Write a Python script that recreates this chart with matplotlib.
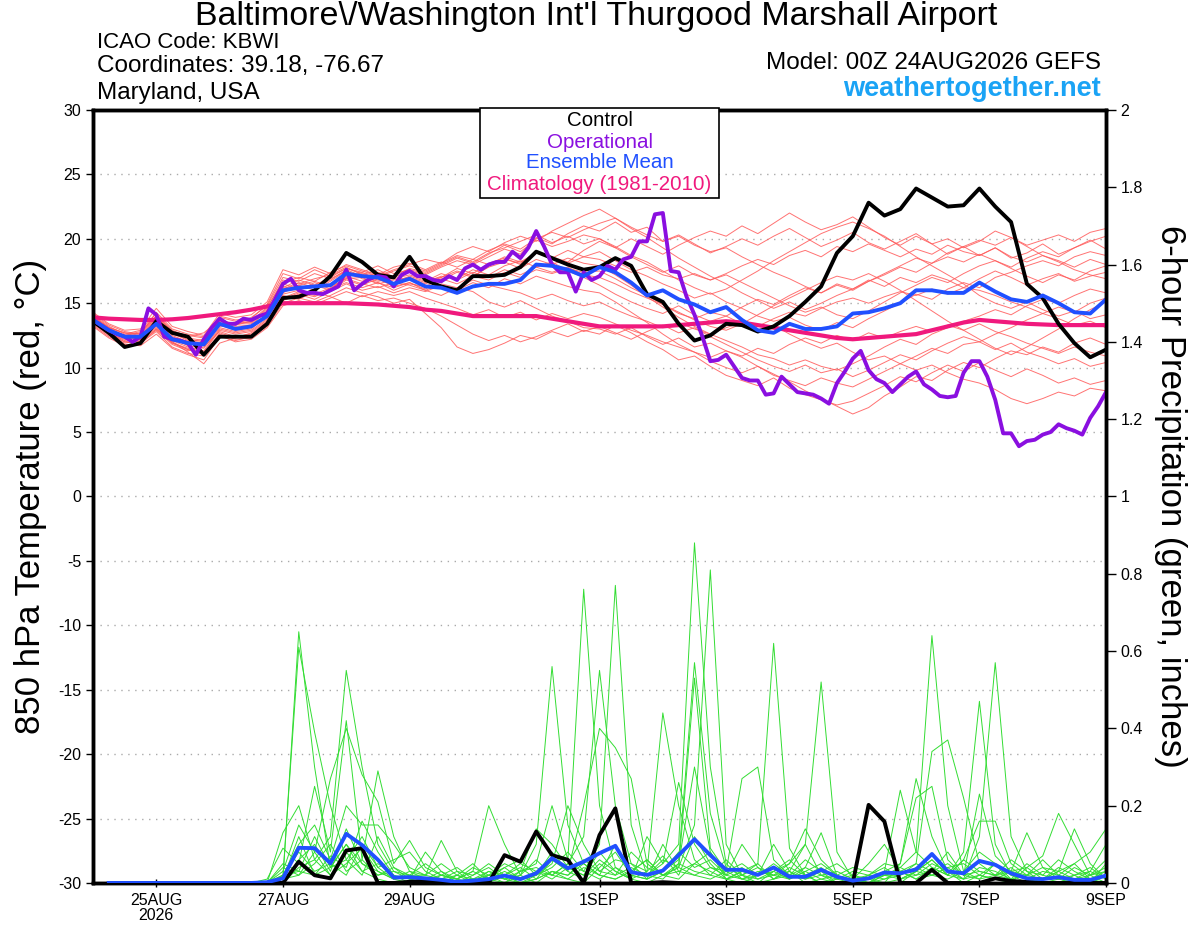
import numpy as np
import matplotlib
matplotlib.use("Agg")
from matplotlib import pyplot as plt
from matplotlib.patches import Rectangle

plt.rcParams['font.family'] = ['Liberation Sans', 'DejaVu Sans']

# 6-hourly steps from 00Z 24AUG2026 (65 points), operational is 3-hourly (129 points)
tick_days = [1, 3, 5, 8, 10, 12, 14, 16]
tick_labels = ['25AUG\n2026', '27AUG', '29AUG', '1SEP', '3SEP', '5SEP', '7SEP', '9SEP']

control_t = [13.6, 12.7, 11.6, 11.9, 13.6, 12.7, 12.4, 11.0, 12.4, 12.4,
             12.4, 13.4, 15.4, 15.5, 16.0, 17.1, 18.9, 18.2, 17.2, 17.0,
             18.6, 16.8, 16.3, 16.0, 17.1, 17.1, 17.2, 17.8, 19.0, 18.5,
             18.0, 17.6, 17.8, 18.5, 17.9, 15.7, 15.1, 13.4, 12.1, 12.5,
             13.4, 13.3, 12.8, 13.2, 14.0, 15.1, 16.3, 18.9, 20.2, 22.8,
             21.8, 22.3, 23.9, 23.2, 22.5, 22.6, 23.9, 22.5, 21.3, 16.5,
             15.4, 13.4, 11.9, 10.8, 11.4]

mean_t = [13.7, 12.9, 12.4, 12.4, 13.4, 12.2, 11.9, 11.8, 13.4, 13.0,
          13.2, 14.0, 16.0, 16.2, 16.3, 16.4, 17.3, 17.1, 17.0, 16.5,
          16.9, 16.3, 16.2, 15.8, 16.3, 16.5, 16.5, 16.8, 18.0, 17.9,
          17.6, 17.1, 17.8, 17.4, 16.6, 15.6, 16.0, 15.3, 14.9, 14.3,
          14.7, 13.7, 12.9, 12.7, 13.4, 13.0, 13.0, 13.2, 14.2, 14.3,
          14.6, 15.0, 16.0, 16.0, 15.8, 15.8, 16.6, 15.9, 15.3, 15.1,
          15.6, 15.0, 14.3, 14.2, 15.3]

clim_t = [13.9, 13.8, 13.75, 13.7, 13.7, 13.75, 13.85, 14.0, 14.15, 14.3,
          14.5, 14.75, 15.0, 15.0, 15.0, 15.0, 15.0, 14.95, 14.9, 14.8,
          14.7, 14.5, 14.4, 14.2, 14.0, 14.0, 14.0, 14.0, 14.0, 13.8,
          13.6, 13.4, 13.2, 13.2, 13.2, 13.2, 13.2, 13.3, 13.4, 13.5,
          13.6, 13.5, 13.3, 13.1, 12.9, 12.7, 12.5, 12.3, 12.2, 12.3,
          12.4, 12.5, 12.6, 12.9, 13.2, 13.5, 13.7, 13.6, 13.5, 13.4,
          13.35, 13.3, 13.3, 13.3, 13.3]

oper_t = [13.7, 13.3, 12.9, 12.6, 12.4, 12.0, 12.4, 14.6, 14.1, 12.4,
          12.2, 12.1, 11.9, 11.0, 12.2, 13.1, 13.8, 13.4, 13.4, 13.8,
          13.7, 14.0, 14.2, 15.3, 16.5, 16.9, 16.0, 15.8, 15.8, 15.7,
          16.0, 16.3, 17.6, 16.0, 16.5, 16.9, 17.1, 17.0, 16.3, 17.2,
          17.5, 17.1, 17.1, 16.8, 16.7, 17.1, 16.8, 17.7, 18.0, 17.6,
          18.0, 18.2, 18.2, 19.0, 18.5, 19.3, 20.6, 19.4, 18.0, 17.4,
          17.4, 15.9, 17.4, 16.8, 17.1, 17.9, 17.6, 18.4, 18.6, 19.8,
          19.8, 21.9, 22.0, 17.5, 17.4, 15.5, 14.1, 12.4, 10.5, 10.6,
          11.0, 10.1, 9.2, 9.0, 9.0, 7.9, 8.0, 9.3, 8.7, 8.1,
          8.0, 7.9, 7.6, 7.2, 8.8, 9.7, 10.7, 11.3, 9.8, 9.1,
          8.8, 8.1, 8.7, 9.3, 9.7, 8.7, 8.3, 7.8, 7.7, 7.8,
          9.6, 10.5, 10.5, 9.3, 7.5, 4.9, 4.9, 3.9, 4.3, 4.4,
          4.8, 5.0, 5.6, 5.3, 5.1, 4.8, 6.1, 7.0, 8.1]

members_t = [
    [14.1, 13.2, 12.6, 12.9, 14.2, 12.8, 12.5, 12.3, 13.9, 13.6,
     13.5, 14.6, 16.8, 16.5, 16.9, 17.2, 17.8, 17.2, 17.6, 17.0,
     17.5, 17.2, 17.8, 18.3, 18.0, 18.6, 19.2, 18.8, 20.1, 19.6,
     20.4, 21.0, 20.6, 21.3, 20.5, 20.9, 19.8, 20.3, 19.6, 18.9,
     19.4, 20.0, 19.5, 20.2, 20.8, 20.1, 19.4, 19.9, 20.5, 19.7,
     19.2, 19.8, 20.4, 19.6, 20.0, 19.3, 19.8, 20.6, 20.1, 19.5,
     19.9, 20.3, 19.8, 20.5, 20.8],
    [13.6, 12.7, 12.0, 12.2, 13.1, 12.0, 11.4, 11.2, 12.9, 12.6,
     12.8, 13.7, 15.8, 16.4, 16.0, 16.7, 17.5, 16.9, 16.6, 16.2,
     16.6, 16.1, 16.8, 17.4, 17.0, 17.9, 18.4, 18.1, 19.0, 18.6,
     18.2, 19.1, 19.8, 19.3, 20.0, 19.4, 18.8, 19.5, 20.1, 20.6,
     20.2, 21.0, 20.4, 21.2, 22.0, 21.3, 20.7, 21.1, 21.7, 20.9,
     20.1, 19.5, 20.2, 19.6, 18.8, 19.4, 18.7, 19.3, 18.5, 18.9,
     19.6, 18.8, 19.3, 19.9, 19.2],
    [13.3, 12.4, 11.8, 11.7, 12.6, 11.5, 11.0, 10.6, 12.4, 12.1,
     12.4, 13.2, 15.0, 15.4, 15.1, 15.6, 16.2, 15.8, 15.5, 15.0,
     15.3, 14.2, 13.1, 11.6, 11.1, 11.4, 11.9, 12.5, 12.2, 12.8,
     12.4, 12.9, 12.6, 13.3, 12.7, 12.0, 11.4, 10.6, 10.9, 10.1,
     9.4, 9.0, 8.6, 9.2, 8.4, 7.9, 7.5, 7.1, 7.4, 8.0,
     8.6, 9.3, 8.9, 9.6, 10.2, 9.7, 10.4, 9.8, 9.3, 9.9,
     9.4, 8.8, 9.2, 8.7, 9.0],
    [14.0, 13.1, 12.7, 12.5, 13.7, 12.6, 12.2, 12.0, 13.6, 13.3,
     13.6, 14.3, 16.3, 16.0, 16.6, 16.1, 17.0, 17.4, 16.8, 16.6,
     17.1, 16.7, 17.3, 16.9, 17.6, 17.2, 17.9, 18.3, 17.8, 18.2,
     17.5, 17.0, 16.4, 15.7, 15.1, 14.6, 14.2, 14.8, 14.1, 13.6,
     14.0, 14.7, 15.3, 14.9, 15.6, 16.2, 15.8, 16.5, 16.1, 16.8,
     16.3, 17.0, 16.6, 17.2, 16.8, 16.2, 16.9, 17.5, 17.0, 16.4,
     16.9, 17.3, 16.7, 17.1, 17.4],
    [13.5, 12.6, 12.2, 12.0, 12.9, 11.8, 11.3, 11.6, 12.8, 12.4,
     12.6, 13.5, 15.4, 15.9, 15.6, 16.0, 16.8, 16.4, 16.9, 16.3,
     16.6, 16.0, 15.6, 16.2, 15.9, 15.1, 14.7, 15.2, 14.6, 14.0,
     13.6, 13.1, 13.0, 12.6, 13.1, 12.4, 11.8, 12.3, 11.6, 11.9,
     11.3, 10.8, 10.1, 9.5, 8.9, 8.2, 7.6, 7.0, 6.4, 6.9,
     7.8, 8.5, 9.3, 9.0, 9.8, 10.4, 10.0, 10.7, 11.3, 11.0,
     11.6, 11.2, 11.9, 12.3, 11.8],
    [13.9, 13.0, 12.5, 12.8, 14.0, 12.9, 12.4, 12.7, 13.7, 13.3,
     13.9, 14.8, 17.0, 16.7, 17.3, 16.9, 17.5, 17.0, 17.4, 17.1,
     17.7, 17.4, 18.0, 18.6, 18.2, 18.9, 19.3, 19.8, 20.3, 19.7,
     20.2, 19.6, 20.0, 19.3, 18.6, 18.0, 17.4, 17.9, 17.2, 16.8,
     17.3, 17.9, 18.4, 18.0, 18.7, 19.1, 18.6, 19.4, 19.0, 19.6,
     19.1, 18.6, 19.2, 18.8, 19.5, 19.0, 18.7, 19.3, 18.6, 18.2,
     18.7, 18.3, 17.8, 18.4, 18.0],
    [13.7, 12.8, 12.3, 12.2, 13.5, 12.3, 11.7, 11.5, 13.1, 12.8,
     13.0, 14.1, 16.1, 16.6, 16.2, 16.8, 17.6, 17.1, 16.7, 16.9,
     17.2, 16.8, 17.0, 17.5, 17.1, 17.8, 18.2, 17.7, 18.4, 18.0,
     18.5, 18.1, 17.9, 17.2, 16.4, 15.5, 14.7, 13.9, 13.2, 12.6,
     12.1, 11.6, 11.0, 10.7, 10.2, 10.6, 10.1, 9.8, 10.3, 10.9,
     11.6, 12.2, 11.8, 12.6, 13.1, 13.6, 14.0, 14.5, 14.1, 14.8,
     15.3, 15.0, 15.6, 16.1, 15.8],
    [14.2, 13.3, 12.8, 12.6, 13.9, 12.7, 12.1, 11.9, 13.5, 13.2,
     13.3, 14.4, 16.5, 16.1, 16.4, 16.0, 17.1, 16.7, 17.2, 16.4,
     16.9, 16.5, 17.0, 17.7, 17.3, 18.1, 18.5, 18.0, 18.9, 18.5,
     19.1, 18.6, 19.0, 18.3, 17.6, 17.1, 16.5, 16.0, 15.4, 15.8,
     15.1, 14.6, 14.0, 13.6, 13.9, 13.3, 12.9, 13.5, 13.1, 13.8,
     14.4, 15.0, 15.7, 15.3, 16.1, 16.6, 16.2, 17.0, 17.4, 17.9,
     18.3, 17.9, 18.6, 19.0, 18.7],
    [13.4, 12.5, 11.9, 12.1, 13.0, 11.9, 11.5, 11.0, 12.7, 12.3,
     12.5, 13.4, 15.2, 15.7, 15.3, 15.9, 16.5, 16.0, 16.3, 15.8,
     16.2, 15.9, 16.4, 16.0, 16.6, 16.2, 16.9, 16.5, 17.1, 16.7,
     16.3, 16.0, 15.8, 15.1, 14.3, 13.5, 12.6, 11.8, 11.2, 10.5,
     10.0, 9.6, 10.1, 9.4, 9.0, 8.6, 9.2, 8.8, 8.5, 9.1,
     9.7, 10.3, 10.9, 11.5, 11.1, 11.8, 12.0, 11.4, 11.9, 11.2,
     10.8, 10.3, 10.7, 10.1, 10.4],
    [13.8, 12.9, 12.3, 12.5, 13.8, 12.5, 12.0, 11.8, 13.3, 12.9,
     13.1, 14.2, 16.2, 16.8, 16.4, 17.0, 17.7, 17.3, 17.0, 17.5,
     17.9, 17.5, 18.1, 18.7, 18.4, 19.1, 19.6, 19.2, 20.0, 20.5,
     20.1, 20.7, 21.2, 21.6, 20.9, 20.3, 19.8, 20.2, 19.5, 19.0,
     19.3, 18.6, 18.0, 17.4, 16.9, 16.3, 15.8, 16.4, 16.0, 16.7,
     17.3, 17.9, 18.5, 18.1, 18.9, 19.4, 19.9, 19.5, 20.1, 19.4,
     18.7, 18.2, 17.6, 17.2, 16.9],
    [14.0, 13.0, 12.4, 12.3, 13.6, 12.4, 12.0, 12.2, 13.2, 13.4,
     13.4, 14.5, 16.0, 16.4, 16.7, 16.3, 16.9, 17.0, 16.5, 16.8,
     17.0, 16.6, 17.1, 16.8, 17.4, 17.0, 17.6, 17.2, 17.8, 17.4,
     17.8, 17.2, 17.0, 16.5, 15.9, 15.4, 14.9, 14.2, 13.8, 14.3,
     14.0, 13.4, 12.9, 13.3, 12.6, 12.0, 11.5, 11.9, 11.2, 10.6,
     10.9, 10.3, 9.8, 10.2, 9.6, 9.1, 8.8, 8.3, 7.6, 7.2,
     7.6, 8.1, 7.8, 8.4, 8.2],
    [13.6, 12.7, 12.1, 12.4, 13.3, 12.1, 11.6, 11.3, 13.0, 12.7,
     12.9, 13.8, 15.7, 16.0, 15.7, 16.2, 16.9, 16.5, 16.2, 16.6,
     16.4, 16.0, 16.5, 16.2, 16.8, 16.4, 16.1, 15.8, 15.3, 15.7,
     15.2, 14.8, 15.1, 14.5, 14.0, 13.6, 13.1, 13.5, 13.0, 12.6,
     13.1, 13.5, 13.2, 13.8, 14.3, 14.0, 14.6, 15.1, 15.4, 15.0,
     15.5, 15.9, 15.6, 16.1, 15.7, 16.2, 16.0, 15.6, 15.1, 14.7,
     14.2, 13.8, 13.3, 13.6, 13.1],
    [13.9, 13.1, 12.7, 12.6, 14.3, 13.0, 12.6, 12.4, 14.0, 13.7,
     13.8, 14.9, 17.3, 16.9, 17.6, 17.1, 17.7, 17.4, 17.9, 17.3,
     17.6, 17.3, 17.9, 18.5, 18.1, 18.8, 19.5, 19.0, 19.9, 19.4,
     19.8, 20.3, 20.0, 19.4, 18.7, 18.2, 17.5, 16.8, 16.2, 15.7,
     16.1, 16.8, 17.5, 18.3, 19.0, 19.7, 20.4, 20.9, 21.3, 20.8,
     20.2, 19.4, 18.6, 17.9, 17.2, 16.5, 15.6, 15.0, 14.6, 15.1,
     14.5, 14.0, 14.4, 13.8, 14.1],
    [13.2, 12.3, 11.7, 11.9, 12.8, 11.6, 11.1, 10.9, 12.5, 12.0,
     12.2, 13.1, 14.8, 15.2, 14.9, 15.4, 15.9, 15.5, 15.9, 15.6,
     15.9, 15.4, 15.0, 14.6, 14.1, 14.5, 13.9, 14.3, 13.7, 14.2,
     13.8, 14.2, 13.9, 13.4, 12.9, 12.5, 12.0, 11.6, 11.2, 10.8,
     11.3, 10.9, 11.5, 11.1, 11.8, 12.3, 11.9, 12.5, 12.1, 12.7,
     12.3, 12.8, 13.2, 12.8, 13.3, 12.9, 13.4, 12.8, 12.4, 11.9,
     11.5, 11.1, 11.6, 11.2, 10.9],
    [14.3, 13.4, 12.9, 13.0, 14.6, 13.2, 12.8, 12.5, 14.2, 13.9,
     14.1, 15.1, 17.6, 17.2, 17.8, 17.3, 18.0, 17.6, 17.2, 17.8,
     18.1, 17.6, 18.2, 17.8, 18.4, 18.0, 18.6, 18.2, 18.9, 18.5,
     18.1, 18.6, 18.4, 17.9, 17.4, 17.8, 17.2, 16.9, 17.3, 16.8,
     17.2, 16.6, 16.0, 15.4, 14.8, 14.3, 14.7, 14.1, 13.8, 14.4,
     15.1, 15.8, 16.4, 17.0, 16.6, 17.3, 17.9, 18.3, 17.8, 18.5,
     19.0, 18.6, 19.3, 19.8, 20.2],
    [13.5, 12.6, 12.0, 11.8, 13.0, 11.9, 11.4, 11.0, 12.6, 12.2,
     12.3, 13.3, 15.3, 15.8, 15.5, 16.1, 16.6, 16.2, 16.6, 16.0,
     16.5, 16.3, 16.9, 16.5, 17.1, 16.8, 17.4, 17.0, 17.6, 17.3,
     17.7, 17.4, 17.5, 16.9, 16.2, 15.6, 14.9, 14.3, 13.7, 13.2,
     12.9, 13.4, 14.1, 14.8, 15.4, 16.0, 16.6, 17.1, 16.8, 17.3,
     16.7, 16.0, 15.2, 14.4, 13.6, 12.9, 12.2, 11.5, 11.0, 11.6,
     12.3, 13.0, 13.8, 14.5, 15.1],
    [13.7, 12.9, 12.5, 12.2, 13.2, 12.0, 11.2, 10.3, 11.9, 12.3,
     12.7, 13.6, 15.6, 15.3, 15.9, 15.5, 15.0, 15.6, 15.2, 15.4,
     15.0, 14.6, 14.0, 13.3, 12.6, 12.1, 12.5, 12.0, 12.4, 12.9,
     13.4, 12.8, 13.2, 12.7, 12.2, 12.8, 13.3, 12.7, 13.1, 12.4,
     11.8, 11.2, 10.6, 10.1, 9.7, 10.2, 9.6, 9.9, 9.3, 9.8,
     10.4, 11.0, 10.6, 11.3, 11.9, 12.4, 12.0, 12.6, 13.1, 13.7,
     14.2, 14.7, 14.3, 15.0, 15.4],
    [14.0, 13.1, 12.5, 12.7, 14.0, 12.7, 12.3, 12.1, 13.7, 13.4,
     13.6, 14.7, 16.6, 17.0, 16.7, 17.4, 17.9, 17.5, 17.1, 17.6,
     18.0, 18.4, 18.1, 18.9, 19.4, 19.0, 19.7, 20.2, 19.8, 20.6,
     21.2, 21.8, 22.3, 21.6, 20.8, 20.1, 19.3, 18.5, 17.8, 17.1,
     16.5, 15.8, 15.2, 14.6, 15.1, 14.5, 15.0, 15.6, 16.1, 16.7,
     17.2, 17.8, 17.4, 18.1, 18.6, 18.2, 18.8, 18.3, 17.7, 17.1,
     16.6, 17.2, 16.8, 17.5, 17.9],
]

# 6-hour precipitation, 06Z 24AUG .. 00Z 9SEP (64 points)
control_p = [0, 0, 0, 0, 0, 0, 0, 0, 0, 0,
             0, 0, 0.055, 0.02, 0.012, 0.084, 0.09, 0, 0, 0.003,
             0.006, 0.003, 0, 0, 0, 0.072, 0.055, 0.133, 0.072, 0.06,
             0, 0.124, 0.193, 0, 0, 0.002, 0, 0, 0, 0,
             0, 0, 0, 0, 0, 0, 0, 0, 0.202, 0.159,
             0, 0, 0.034, 0, 0, 0, 0.012, 0.005, 0.003, 0,
             0, 0, 0, 0]

mean_p = [0, 0, 0, 0, 0, 0, 0, 0, 0, 0,
          0.002, 0.012, 0.091, 0.09, 0.051, 0.127, 0.098, 0.06, 0.014, 0.015,
          0.012, 0.008, 0.003, 0.006, 0.01, 0.019, 0.01, 0.025, 0.064, 0.038,
          0.055, 0.077, 0.096, 0.028, 0.021, 0.032, 0.072, 0.113, 0.072, 0.034,
          0.034, 0.021, 0.04, 0.016, 0.016, 0.034, 0.016, 0.006, 0.012, 0.027,
          0.025, 0.035, 0.075, 0.03, 0.025, 0.057, 0.047, 0.025, 0.012, 0.01,
          0.015, 0.008, 0.008, 0.019]

members_p = [
    [0, 0, 0, 0, 0, 0, 0, 0, 0, 0,
     0, 0.01, 0.65, 0.30, 0.04, 0.10, 0.03, 0.01, 0, 0,
     0, 0, 0, 0.01, 0.02, 0, 0.03, 0.05, 0.20, 0.06,
     0.76, 0.20, 0.04, 0.01, 0, 0.02, 0.05, 0.30, 0.08, 0.01,
     0, 0.02, 0.10, 0.03, 0, 0.01, 0, 0, 0, 0.02,
     0.04, 0.08, 0.64, 0.20, 0.03, 0.01, 0.05, 0, 0, 0,
     0, 0.01, 0, 0.02],
    [0, 0, 0, 0, 0, 0, 0, 0, 0, 0,
     0, 0.02, 0.61, 0.39, 0.20, 0.06, 0.12, 0.04, 0.01, 0,
     0, 0.01, 0, 0, 0.03, 0.01, 0, 0.02, 0.04, 0.08,
     0.03, 0.10, 0.77, 0.15, 0.02, 0.05, 0.10, 0.88, 0.30, 0.05,
     0.01, 0, 0.03, 0.01, 0.04, 0.13, 0.02, 0, 0, 0,
     0, 0.03, 0.06, 0.02, 0.08, 0.47, 0.10, 0.02, 0, 0,
     0, 0, 0.01, 0],
    [0, 0, 0, 0, 0, 0, 0, 0, 0, 0,
     0, 0.13, 0.20, 0.06, 0.12, 0.55, 0.30, 0.10, 0.03, 0.01,
     0, 0, 0.02, 0.05, 0.01, 0, 0.02, 0.10, 0.56, 0.15,
     0.05, 0.02, 0.01, 0.03, 0.06, 0.02, 0.04, 0.15, 0.81, 0.10,
     0.02, 0, 0.01, 0.04, 0.02, 0, 0, 0.01, 0, 0.03,
     0.05, 0.27, 0.12, 0.03, 0, 0.02, 0.01, 0, 0.04, 0.07,
     0.18, 0.10, 0.02, 0],
    [0, 0, 0, 0, 0, 0, 0, 0, 0, 0,
     0.01, 0.09, 0.05, 0.25, 0.08, 0.42, 0.06, 0.29, 0.12, 0.03,
     0.01, 0, 0, 0, 0.02, 0.04, 0.01, 0.03, 0.02, 0.05,
     0.12, 0.55, 0.20, 0.05, 0.03, 0.44, 0.20, 0.06, 0.02, 0.01,
     0.03, 0.05, 0.62, 0.09, 0.02, 0, 0.01, 0, 0, 0,
     0.01, 0.02, 0.05, 0.03, 0.01, 0.12, 0.57, 0.12, 0.03, 0,
     0, 0.02, 0, 0.05],
    [0, 0, 0, 0, 0, 0, 0, 0, 0, 0,
     0, 0.03, 0.15, 0.08, 0.27, 0.40, 0.28, 0.21, 0.05, 0.11,
     0.04, 0.02, 0.01, 0.03, 0.20, 0.10, 0.02, 0, 0.03, 0.01,
     0, 0.04, 0.08, 0.02, 0.01, 0.03, 0.06, 0.57, 0.18, 0.04,
     0.02, 0.01, 0.03, 0.05, 0.10, 0.52, 0.08, 0.01, 0, 0.02,
     0.03, 0.05, 0.34, 0.37, 0.22, 0.05, 0.02, 0.01, 0, 0.01,
     0.03, 0.05, 0.08, 0.14],
    [0, 0, 0, 0, 0, 0, 0, 0, 0, 0,
     0, 0.02, 0.10, 0.15, 0.06, 0.20, 0.15, 0.15, 0.10, 0.04,
     0.02, 0.11, 0.03, 0, 0.01, 0.02, 0, 0.01, 0.06, 0.03,
     0.20, 0.40, 0.35, 0.27, 0.05, 0.02, 0.04, 0.53, 0.09, 0.03,
     0.27, 0.30, 0.06, 0.02, 0.01, 0.03, 0, 0, 0.01, 0,
     0.05, 0.22, 0.25, 0.06, 0.02, 0.23, 0.07, 0.03, 0.13, 0.04,
     0.01, 0, 0.02, 0.03],
    [0, 0, 0, 0, 0, 0, 0, 0, 0, 0,
     0, 0.05, 0.03, 0.12, 0.04, 0.10, 0.05, 0.02, 0.04, 0.01,
     0.08, 0.03, 0.01, 0, 0.02, 0.05, 0.03, 0.14, 0.10, 0.04,
     0.02, 0.06, 0.03, 0.01, 0.12, 0.05, 0.26, 0.10, 0.04, 0.02,
     0.01, 0.03, 0.02, 0.05, 0.14, 0.06, 0.02, 0, 0.01, 0.03,
     0.24, 0.08, 0.04, 0.02, 0.06, 0.16, 0.16, 0.05, 0.02, 0.01,
     0.03, 0.14, 0.05, 0.01],
    [0, 0, 0, 0, 0, 0, 0, 0, 0, 0,
     0, 0.02, 0.08, 0.03, 0.05, 0.02, 0.10, 0.04, 0.06, 0.08,
     0.03, 0.01, 0.02, 0, 0.01, 0.03, 0.01, 0.02, 0.05, 0.20,
     0.10, 0.03, 0.06, 0.05, 0.01, 0.10, 0.03, 0.05, 0.08, 0.02,
     0.10, 0.04, 0.01, 0.03, 0.10, 0.02, 0, 0.01, 0.05, 0.10,
     0.03, 0.01, 0.02, 0.04, 0.05, 0.02, 0.01, 0.03, 0.02, 0.06,
     0.02, 0.01, 0.03, 0.10],
    [0, 0, 0, 0, 0, 0, 0, 0, 0, 0,
     0, 0, 0.04, 0.06, 0.02, 0.08, 0.03, 0.05, 0.02, 0.01,
     0, 0.02, 0.04, 0.01, 0, 0.02, 0.05, 0.03, 0.01, 0.04,
     0.02, 0.08, 0.03, 0.01, 0.03, 0.07, 0.02, 0.12, 0.05, 0.01,
     0.03, 0.02, 0.04, 0.01, 0.03, 0.05, 0.02, 0, 0.02, 0.04,
     0.01, 0.03, 0.06, 0.02, 0.01, 0.04, 0.03, 0.01, 0.05, 0.02,
     0.06, 0.03, 0.01, 0.02],
    [0, 0, 0, 0, 0, 0, 0, 0, 0, 0,
     0, 0.01, 0.12, 0.02, 0.07, 0.04, 0.16, 0.08, 0.02, 0,
     0.01, 0.03, 0, 0.02, 0.04, 0.01, 0.02, 0.06, 0.02, 0.01,
     0.04, 0.02, 0.10, 0.03, 0.02, 0.01, 0.05, 0.03, 0.02, 0.06,
     0.02, 0.05, 0.01, 0.02, 0.04, 0.02, 0.01, 0.02, 0, 0.01,
     0.02, 0.05, 0.03, 0.08, 0.02, 0.03, 0.02, 0.04, 0.01, 0,
     0.01, 0.04, 0.02, 0.06],
    [0, 0, 0, 0, 0, 0, 0, 0, 0, 0,
     0, 0.04, 0.02, 0.05, 0.10, 0.03, 0.06, 0.02, 0.03, 0.02,
     0.02, 0.01, 0.03, 0.02, 0.05, 0.02, 0, 0.01, 0.03, 0.02,
     0.06, 0.03, 0.02, 0.08, 0.04, 0.02, 0.03, 0.02, 0.04, 0.03,
     0.05, 0.02, 0.03, 0.06, 0.02, 0.04, 0.01, 0.03, 0.02, 0.01,
     0.03, 0.01, 0.04, 0.02, 0.06, 0.03, 0.02, 0.06, 0.03, 0.02,
     0.01, 0.02, 0.04, 0.01],
    [0, 0, 0, 0, 0, 0, 0, 0, 0, 0,
     0, 0, 0.06, 0.10, 0.03, 0.14, 0.05, 0.03, 0.01, 0.02,
     0.05, 0.02, 0.01, 0.03, 0.01, 0.04, 0.06, 0.02, 0.08, 0.03,
     0.01, 0.05, 0.02, 0.04, 0.02, 0.06, 0.04, 0.02, 0.01, 0.03,
     0.01, 0.02, 0.05, 0.02, 0.06, 0.03, 0.05, 0.02, 0.01, 0.02,
     0.02, 0.04, 0.02, 0.01, 0.03, 0.08, 0.05, 0.02, 0.01, 0.03,
     0.02, 0.05, 0.01, 0.03],
    [0, 0, 0, 0, 0, 0, 0, 0, 0, 0,
     0, 0.02, 0.03, 0.02, 0.04, 0.06, 0.02, 0.12, 0.04, 0.02,
     0.01, 0.02, 0.01, 0.04, 0.02, 0.01, 0.03, 0.04, 0.02, 0.05,
     0.03, 0.01, 0.04, 0.02, 0.01, 0.03, 0.08, 0.04, 0.06, 0.02,
     0.04, 0.01, 0.02, 0.03, 0.01, 0.02, 0.03, 0.01, 0.02, 0.05,
     0.04, 0.02, 0.03, 0.05, 0.02, 0.01, 0.02, 0.03, 0.04, 0.01,
     0.04, 0.02, 0.03, 0.01],
    [0, 0, 0, 0, 0, 0, 0, 0, 0, 0,
     0, 0.01, 0.02, 0.08, 0.02, 0.05, 0.09, 0.03, 0.01, 0.03,
     0.02, 0.05, 0.02, 0.01, 0.03, 0.02, 0.04, 0.01, 0.03, 0.02,
     0.05, 0.02, 0.01, 0.03, 0.06, 0.02, 0.01, 0.05, 0.03, 0.01,
     0.02, 0.04, 0.02, 0.01, 0.03, 0.01, 0.02, 0.04, 0.03, 0.02,
     0.01, 0.03, 0.02, 0.04, 0.01, 0.02, 0.05, 0.01, 0.02, 0.04,
     0.03, 0.01, 0.02, 0.04],
]

for m in members_t:
    assert len(m) == 65, len(m)
for m in members_p:
    assert len(m) == 64, len(m)

days_t = np.arange(65) * 0.25
days_p = np.arange(1, 65) * 0.25
days_op = np.arange(len(oper_t)) * 0.125

fig = plt.figure(figsize=(12, 9.27), dpi=100)
ax = fig.add_axes([0.0775, 0.0475, 0.8442, 0.8339])
ax2 = ax.twinx()

for m in members_t:
    ax.plot(days_t, m, color='#ff5a5a', lw=0.7, alpha=0.85, zorder=2)
ax.plot(days_t, clim_t, color='#f0197d', lw=3, zorder=4)
ax.plot(days_t, control_t, color='black', lw=2.8, zorder=5)
ax.plot(days_op, oper_t, color='#8a0fe0', lw=2.8, zorder=6)
ax.plot(days_t, mean_t, color='#2050ff', lw=2.8, zorder=7)

for m in members_p:
    ax2.plot(days_p, m, color='#33dd33', lw=0.7, zorder=2)
ax2.plot(days_p, control_p, color='black', lw=2.8, zorder=5)
ax2.plot(days_p, mean_p, color='#2050ff', lw=2.8, zorder=6)

ax.set_xlim(0, 16)
ax.set_ylim(-30, 30)
ax2.set_ylim(0, 2)
ax.set_yticks(range(-30, 31, 5))
ax.set_yticklabels([str(v) for v in range(-30, 31, 5)], fontsize=11.5)
ax2.set_yticks(np.arange(0, 2.01, 0.2))
ax2.set_yticklabels(['0', '0.2', '0.4', '0.6', '0.8', '1', '1.2', '1.4', '1.6', '1.8', '2'], fontsize=11.5)
ax.set_xticks(tick_days)
ax.set_xticklabels(tick_labels, fontsize=11.5, linespacing=1.0)
ax.tick_params(axis='x', direction='inout', length=6, width=1, pad=4)
ax.tick_params(axis='y', direction='out', length=5, width=1)
ax2.tick_params(axis='y', direction='out', length=7, width=1)

for v in range(-25, 30, 5):
    ax.axhline(v, color='#aaaaaa', lw=1, ls=(0, (1, 4)), zorder=1)

for a in (ax, ax2):
    for s in a.spines.values():
        s.set_linewidth(2.5)

ax.set_ylabel('850 hPa Temperature (red, °C)', fontsize=25, labelpad=8)
ax2.set_ylabel('6-hour Precipitation (green, inches)', fontsize=25, rotation=270, labelpad=32)

W, H = 1200.0, 927.0
fig.text(596 / W, 1 - 16 / H, "Baltimore\\/Washington Int'l Thurgood Marshall Airport",
         ha='center', va='center', fontsize=24.5)
fig.text(97 / W, 1 - 42 / H, 'ICAO Code: KBWI', ha='left', va='center', fontsize=16)
fig.text(97 / W, 1 - 66 / H, 'Coordinates: 39.18, -76.67', ha='left', va='center', fontsize=17.5)
fig.text(97 / W, 1 - 93 / H, 'Maryland, USA', ha='left', va='center', fontsize=17.5)
fig.text(1101 / W, 1 - 63 / H, 'Model: 00Z 24AUG2026 GEFS', ha='right', va='center', fontsize=17.5)
fig.text(1101 / W, 1 - 89 / H, 'weathertogether.net', ha='right', va='center', fontsize=19.5,
         fontweight='bold', color='#1aa3f5')

# legend box
fig.patches.append(Rectangle((480 / W, 1 - 198 / H), 239 / W, 90 / H, transform=fig.transFigure,
                             facecolor='white', edgecolor='black', lw=1.2, zorder=10))
leg = [('Control', 'black', 121), ('Operational', '#8a0fe0', 142),
       ('Ensemble Mean', '#2050ff', 163), ('Climatology (1981-2010)', '#f0197d', 185)]
for txt, col, yy in leg:
    fig.text(599.5 / W, 1 - yy / H, txt, ha='center', va='center', fontsize=14.8, color=col, zorder=11)

fig.savefig('out.png', dpi=100)
